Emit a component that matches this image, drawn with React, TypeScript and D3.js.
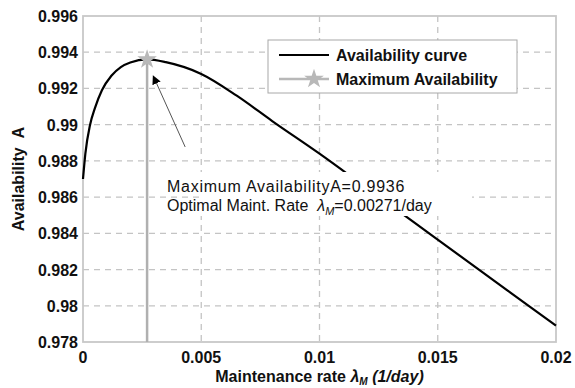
import React from "react";
import * as d3 from "d3";

// curve
const rates = [0, 0.0001, 0.0003, 0.0005, 0.0008, 0.0012, 0.0016, 0.002, 0.00271, 0.0035, 0.005, 0.0065, 0.008, 0.01, 0.012, 0.014, 0.016, 0.018, 0.02];
const avail = [0.987, 0.9884, 0.99, 0.9909, 0.9919, 0.9927, 0.99318, 0.99343, 0.9936, 0.99345, 0.9928, 0.9916, 0.9902, 0.9884, 0.9865, 0.9846, 0.9827, 0.9808, 0.9789];
const xTicks = [0, 0.005, 0.01, 0.015, 0.02];
const yTicks = [0.978, 0.98, 0.982, 0.984, 0.986, 0.988, 0.99, 0.992, 0.994, 0.996];
const peak = { rate: 0.00271, value: 0.9936 };
const arrowFrom = { rate: 0.00432, value: 0.98877 };
const arrowTo = { rate: 0.00297, value: 0.99269 };

const W = 575, H = 388;
const m = { left: 83, top: 16, right: 19, bottom: 46 };
const FONT = "'Liberation Sans', Arial, sans-serif";

export default function App() {
  const x = d3.scaleLinear().domain([0, 0.02]).range([m.left, W - m.right]);
  const y = d3.scaleLinear().domain([0.978, 0.996]).range([H - m.bottom, m.top]);
  const pts = rates.map((r, i) => [r, avail[i]] as [number, number]);
  const line = d3.line<[number, number]>().x((d) => x(d[0])).y((d) => y(d[1])).curve(d3.curveMonotoneX);
  const star = d3.symbol().type(d3.symbolStar).size(120)()!;
  const grid = "#c4c4c4";

  return (
    <svg width={W} height={H} style={{ position: "absolute", left: 0, top: 0, background: "#fff" }} fontFamily={FONT}>
      <defs>
        <marker id="ah" viewBox="0 0 10 10" refX="9" refY="5" markerWidth="9" markerHeight="9" orient="auto">
          <path d="M0,0 L10,5 L0,10 z" fill="#000" />
        </marker>
      </defs>
      {/* grid */}
      {xTicks.slice(1, -1).map((t) => (
        <line key={"gx" + t} x1={x(t)} x2={x(t)} y1={m.top} y2={H - m.bottom} stroke={grid} strokeWidth={1.3} strokeDasharray="6,5" />
      ))}
      {yTicks.slice(1, -1).map((t) => (
        <line key={"gy" + t} x1={m.left} x2={W - m.right} y1={y(t)} y2={y(t)} stroke={grid} strokeWidth={1.3} strokeDasharray="6,5" />
      ))}
      <rect x={m.left} y={m.top} width={W - m.left - m.right} height={H - m.top - m.bottom} fill="none" stroke="#c8c8c8" strokeWidth={1.8} />

      {/* optimum marker */}
      <line x1={x(peak.rate)} x2={x(peak.rate)} y1={y(peak.value)} y2={H - m.bottom} stroke="#b0b0b0" strokeWidth={2.5} />
      <path d={line(pts)!} fill="none" stroke="#000" strokeWidth={2.2} />
      <path d={star} transform={`translate(${x(peak.rate)},${y(peak.value)})`} fill="#b8b8b8" />

      {/* annotation */}
      <line x1={x(arrowFrom.rate)} y1={y(arrowFrom.value)} x2={x(arrowTo.rate)} y2={y(arrowTo.value)} stroke="#555" strokeWidth={1} markerEnd="url(#ah)" />
      <rect x={199} y={172} width={273} height={44} fill="#fff" />
      <text x={167} y={192} fontSize={16} fill="#111" letterSpacing={0.75}>Maximum AvailabilityA=0.9936</text>
      <text x={167} y={211} fontSize={16} fill="#111">
        Optimal Maint. Rate {"\u00a0"}<tspan fontStyle="italic">λ</tspan>
        <tspan fontStyle="italic" fontSize={11} dy={4}>M</tspan>
        <tspan dy={-4}>=0.00271/day</tspan>
      </text>

      {/* legend */}
      <rect x={268} y={40} width={249} height={53} fill="#fff" stroke="#a8a8a8" strokeWidth={1} />
      <line x1={279} x2={329} y1={55} y2={55} stroke="#000" strokeWidth={2.2} />
      <text x={336} y={61} fontSize={16} fontWeight="bold" fill="#111">Availability curve</text>
      <line x1={279} x2={329} y1={79} y2={79} stroke="#b8b8b8" strokeWidth={2.5} />
      <path d={star} transform="translate(314,79)" fill="#b8b8b8" />
      <text x={336} y={85} fontSize={16} fontWeight="bold" fill="#111">Maximum Availability</text>

      {/* axes labels */}
      {yTicks.map((t) => (
        <text key={"ty" + t} x={m.left - 5} y={y(t) + 6} textAnchor="end" fontSize={16} fontWeight="bold" fill="#111">
          {d3.format("")(t)}
        </text>
      ))}
      {xTicks.map((t) => (
        <text key={"tx" + t} x={x(t)} y={363} textAnchor="middle" fontSize={16} fontWeight="bold" fill="#111">
          {d3.format("")(t)}
        </text>
      ))}
      <text x={(m.left + W - m.right) / 2} y={382} textAnchor="middle" fontSize={16} fontWeight="bold" fill="#111">
        Maintenance rate <tspan fontStyle="italic">λ</tspan>
        <tspan fontStyle="italic" fontSize={10} dy={3}>M</tspan>
        <tspan fontStyle="italic" dy={-3}> (1/day)</tspan>
      </text>
      <text transform={`translate(24,${(m.top + H - m.bottom) / 2}) rotate(-90)`} textAnchor="middle" fontSize={16} fontWeight="bold" fill="#111">
        Availability{"\u00a0\u00a0"}A
      </text>
    </svg>
  );
}
